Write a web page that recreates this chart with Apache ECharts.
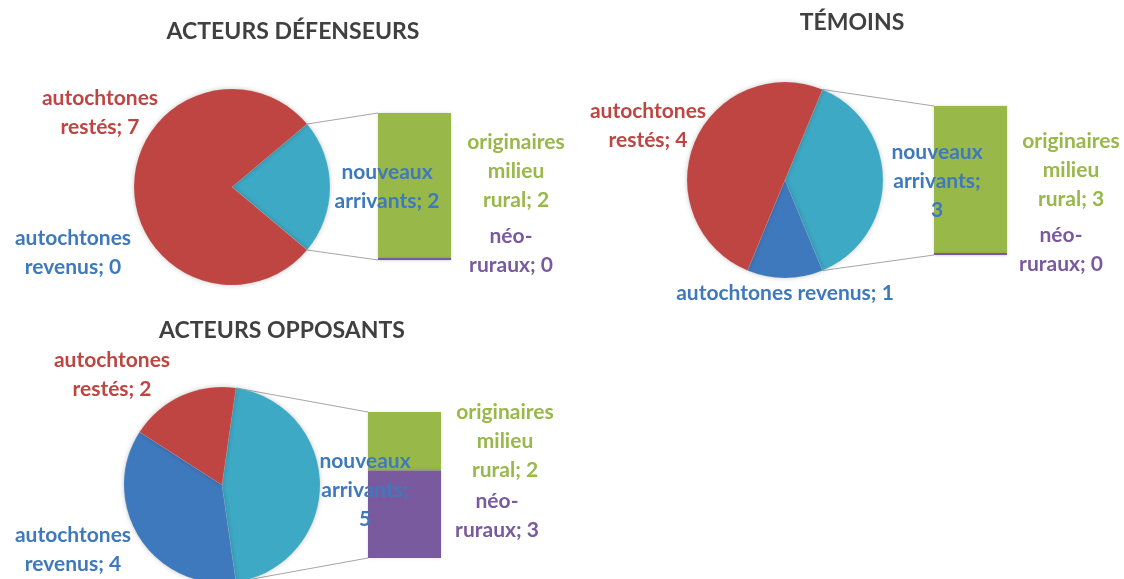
<!DOCTYPE html>
<html>
<head>
<meta charset="utf-8">
<script src="https://cdn.jsdelivr.net/npm/echarts@6/dist/echarts.min.js"></script>
<style>html,body{margin:0;padding:0;background:#fff}#c{width:1124px;height:579px}</style>
</head>
<body>
<div id="c"></div>
<script>
// ---- DATA ----
const chartTitles = ['ACTEURS DÉFENSEURS', 'TÉMOINS', 'ACTEURS OPPOSANTS'];
const pieCategories = ['nouveaux arrivants', 'autochtones revenus', 'autochtones restés'];
const defenseursPie = [2, 0, 7];
const temoinsPie = [3, 1, 4];
const opposantsPie = [5, 4, 2];
const barCategories = ['néo-ruraux', 'originaires milieu rural'];
const defenseursBar = [0, 2];
const temoinsBar = [0, 3];
const opposantsBar = [3, 2];

// ---- STYLE / LAYOUT ----
const pieColors = ['#3DA9C4', '#3F79BD', '#BE4541'];
const barColors = ['#7A5A9F', '#98B84A'];
const labelColors = { 'nouveaux arrivants': '#3F79BD', 'autochtones revenus': '#3F79BD', 'autochtones restés': '#BE4541', 'néo-ruraux': '#7A5A9F', 'originaires milieu rural': '#98B84A' };
const FONT = 'Lato, "Open Sans", sans-serif';
const layouts = [
  { title: [293, 32], center: [232, 187], r: 98, bar: { left: 378, top: 113, width: 73, height: 147 },
    labels: {
      'autochtones restés': [100, 113, 'words'],
      'autochtones revenus': [73, 253, 'words'],
      'nouveaux arrivants': [387, 187, 'words'],
      'originaires milieu rural': [516, 171, 'words'],
      'néo-ruraux': [511, 251, 'hyphen'] } },
  { title: [852, 23], center: [785, 180], r: 98, bar: { left: 934, top: 106, width: 73, height: 149 },
    labels: {
      'autochtones restés': [648, 126, 'words'],
      'autochtones revenus': [785, 293, 'none'],
      'nouveaux arrivants': [937, 181, 'all'],
      'originaires milieu rural': [1071, 170, 'words'],
      'néo-ruraux': [1061, 250, 'hyphen'] } },
  { title: [282, 331], center: [222, 485], r: 98, bar: { left: 368, top: 412, width: 73, height: 146 },
    labels: {
      'autochtones restés': [112, 375, 'words'],
      'autochtones revenus': [73, 550, 'words'],
      'nouveaux arrivants': [365, 490, 'all'],
      'originaires milieu rural': [505, 441, 'words'],
      'néo-ruraux': [497, 516, 'hyphen'] } }
];

const pies = [defenseursPie, temoinsPie, opposantsPie];
const bars = [defenseursBar, temoinsBar, opposantsBar];

function wrapText(s, mode) {
  if (mode === 'none') return s;
  if (mode === 'all') return s.split(' ').join('\n');
  if (mode === 'hyphen') return s.replace('-', '-\n');
  // words: break at every space except the one after ';'
  return s.replace(/ /g, (m, i) => s[i - 1] === ';' ? ' ' : '\n');
}

const series = [], grids = [], xAxes = [], yAxes = [], graphics = [];

layouts.forEach((L, k) => {
  const vals = pies[k];
  const total = vals.reduce((a, b) => a + b, 0);
  const half = vals[0] / total * 180;
  series.push({
    type: 'pie', center: L.center, radius: L.r, startAngle: half, clockwise: true,
    silent: true, animation: false, label: { show: false }, labelLine: { show: false },
    itemStyle: { borderColor: 'rgba(255,255,255,0.2)', borderWidth: 0.5, shadowBlur: 5, shadowColor: 'rgba(0,0,0,0.22)' },
    data: pieCategories.map((c, i) => ({ name: c, value: vals[i], itemStyle: { color: pieColors[i] } }))
  });
  grids.push({ left: L.bar.left, top: L.bar.top, width: L.bar.width, height: L.bar.height });
  const barTotal = bars[k].reduce((a, b) => a + b, 0);
  xAxes.push({ type: 'category', gridIndex: k, data: [''], show: false, boundaryGap: true });
  yAxes.push({ type: 'value', gridIndex: k, min: 0, max: barTotal, show: false });
  barCategories.forEach((c, i) => {
    series.push({
      type: 'bar', name: c, xAxisIndex: k, yAxisIndex: k, stack: 's' + k, barWidth: '100%',
      animation: false, silent: true, z: i === 0 ? 3 : 2,
      barMinHeight: i === 0 ? 2 : 0,
      itemStyle: { color: barColors[i], shadowBlur: 3, shadowColor: 'rgba(0,0,0,0.15)' },
      data: [bars[k][i]]
    });
  });
  // connector lines from pie wedge edges to bar corners
  const th = half * Math.PI / 180;
  const px = L.center[0] + L.r * Math.cos(th);
  const pyTop = L.center[1] - L.r * Math.sin(th);
  const pyBot = L.center[1] + L.r * Math.sin(th);
  graphics.push({ type: 'line', shape: { x1: px, y1: pyTop, x2: L.bar.left, y2: L.bar.top }, style: { stroke: '#A6A6A6', lineWidth: 1 }, z: 1 });
  graphics.push({ type: 'line', shape: { x1: px, y1: pyBot, x2: L.bar.left, y2: L.bar.top + L.bar.height }, style: { stroke: '#A6A6A6', lineWidth: 1 }, z: 1 });
  // title
  graphics.push({ type: 'text', x: L.title[0], y: L.title[1], z: 10,
    style: { text: chartTitles[k], fill: '#404040', font: 'bold 23px ' + FONT, textAlign: 'center', textVerticalAlign: 'middle' } });
  // data labels
  const allCats = pieCategories.map((c, i) => [c, vals[i]]).concat(barCategories.map((c, i) => [c, bars[k][i]]));
  allCats.forEach(([c, v]) => {
    const p = L.labels[c];
    graphics.push({ type: 'text', x: p[0], y: p[1], z: 10,
      style: { text: wrapText(c + '; ' + v, p[2]), fill: labelColors[c], font: 'bold 21px ' + FONT, lineHeight: 29, textAlign: 'center', textVerticalAlign: 'middle' } });
  });
});

const chart = echarts.init(document.getElementById('c'), null, { renderer: 'canvas' });
chart.setOption({
  backgroundColor: '#fff', animation: false,
  grid: grids, xAxis: xAxes, yAxis: yAxes, series: series,
  graphic: { elements: graphics }
});
</script>
</body>
</html>
